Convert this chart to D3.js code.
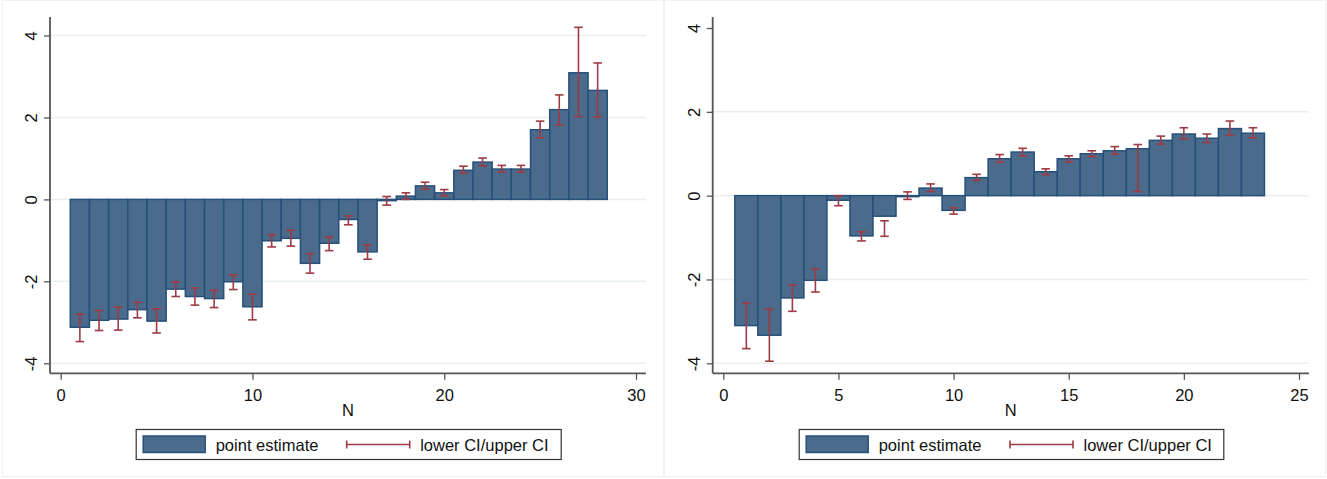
<!DOCTYPE html>
<html>
<head>
<meta charset="utf-8">
<script src="https://cdn.jsdelivr.net/npm/d3@7"></script>
<style>
  html, body { margin: 0; padding: 0; background: #ffffff; }
  svg { display: block; }
  text { font-family: "Liberation Sans", Arial, sans-serif; fill: #111; }
</style>
</head>
<body>
<svg id="chart" width="1327" height="479"></svg>
<script>
// ---------- DATA ----------
const leftN = [1,2,3,4,5,6,7,8,9,10,11,12,13,14,15,16,17,18,19,20,21,22,23,24,25,26,27,28];
const leftEstimate = [-3.12,-2.95,-2.92,-2.69,-2.97,-2.19,-2.37,-2.42,-2.01,-2.62,-1.01,-0.95,-1.56,-1.07,-0.49,-1.28,-0.03,0.08,0.33,0.16,0.71,0.91,0.74,0.74,1.70,2.19,3.09,2.66];
const leftUpper = [-2.80,-2.71,-2.63,-2.51,-2.67,-2.01,-2.16,-2.22,-1.84,-2.31,-0.86,-0.75,-1.32,-0.92,-0.40,-1.11,0.07,0.16,0.42,0.24,0.81,1.01,0.83,0.83,1.91,2.55,4.20,3.33];
const leftLower = [-3.47,-3.20,-3.19,-2.89,-3.26,-2.37,-2.58,-2.64,-2.20,-2.94,-1.16,-1.14,-1.80,-1.25,-0.62,-1.46,-0.14,0.00,0.25,0.09,0.64,0.82,0.67,0.67,1.50,1.82,2.02,2.01];

const rightN = [1,2,3,4,5,6,7,8,9,10,11,12,13,14,15,16,17,18,19,20,21,22,23];
const rightEstimate = [-3.10,-3.33,-2.44,-2.02,-0.11,-0.96,-0.49,-0.02,0.18,-0.35,0.43,0.88,1.04,0.57,0.88,1.00,1.07,1.12,1.32,1.47,1.37,1.60,1.49];
const rightUpper = [-2.56,-2.71,-2.13,-1.75,0.00,-0.86,-0.60,0.09,0.28,-0.29,0.51,0.98,1.13,0.64,0.95,1.07,1.17,1.22,1.42,1.62,1.47,1.78,1.62];
const rightLower = [-3.65,-3.95,-2.76,-2.30,-0.24,-1.08,-0.97,-0.09,0.10,-0.44,0.36,0.80,0.95,0.50,0.80,0.93,0.99,0.10,1.23,1.35,1.27,1.44,1.38];

const yTicks = [-4,-2,0,2,4];
const yTickLabels = ["-4","-2","0","2","4"];
const leftXTicks = [0,10,20,30];
const rightXTicks = [0,5,10,15,20,25];
const xTitle = "N";
const legendLabels = ["point estimate", "lower CI/upper CI"];

// ---------- STYLE ----------
const barFill = "#4a6b8c";
const barStroke = "#26507a";
const ciColor = "#9e3a43";
const gridColor = "#e8eff0";
const axisColor = "#555555";
const fontSize = 16.5;

const svg = d3.select("#chart");

function drawPanel(cfg) {
  const g = svg.append("g");
  const rows = cfg.n.map((n, i) => ({ n: n, est: cfg.est[i], lo: cfg.lo[i], hi: cfg.hi[i] }));

  // panel frame
  g.append("rect")
    .attr("x", cfg.frame[0] + 0.5).attr("y", cfg.frame[1] + 0.5)
    .attr("width", cfg.frame[2]).attr("height", cfg.frame[3])
    .attr("fill", "none").attr("stroke", "#eef1f2").attr("stroke-width", 1);

  const x = d3.scaleLinear().domain(cfg.xDomain).range(cfg.xRange);
  const y = d3.scaleLinear().domain([-4, 4]).range(cfg.yRange);

  // gridlines
  g.append("g").selectAll("line")
    .data(yTicks.filter(t => cfg.gridTicks.includes(t)))
    .join("line")
    .attr("x1", cfg.axisX).attr("x2", cfg.axisRight)
    .attr("y1", d => y(d)).attr("y2", d => y(d))
    .attr("stroke", gridColor).attr("stroke-width", 1.5);

  // bars
  g.append("g").selectAll("rect")
    .data(rows)
    .join("rect")
    .attr("x", d => x(d.n - 0.5))
    .attr("width", d => x(d.n + 0.5) - x(d.n - 0.5))
    .attr("y", d => Math.min(y(d.est), y(0)))
    .attr("height", d => Math.max(Math.abs(y(d.est) - y(0)), 1))
    .attr("fill", barFill)
    .attr("stroke", barStroke)
    .attr("stroke-width", 1.5);

  // CI
  const ci = g.append("g").attr("stroke", ciColor).attr("stroke-width", 1.6).attr("fill", "none");
  const cap = 4.3;
  ci.selectAll("line.v").data(rows).join("line").attr("class", "v")
    .attr("x1", d => x(d.n)).attr("x2", d => x(d.n))
    .attr("y1", d => y(d.hi)).attr("y2", d => y(d.lo));
  ci.selectAll("line.t").data(rows).join("line").attr("class", "t")
    .attr("x1", d => x(d.n) - cap).attr("x2", d => x(d.n) + cap)
    .attr("y1", d => y(d.hi)).attr("y2", d => y(d.hi));
  ci.selectAll("line.b").data(rows).join("line").attr("class", "b")
    .attr("x1", d => x(d.n) - cap).attr("x2", d => x(d.n) + cap)
    .attr("y1", d => y(d.lo)).attr("y2", d => y(d.lo));

  // Y axis
  const yAxis = d3.axisLeft(y).tickValues(yTicks).tickSize(6).tickPadding(0)
    .tickFormat(d => yTickLabels[yTicks.indexOf(d)]);
  const ya = g.append("g").attr("transform", `translate(${cfg.axisX},0)`).call(yAxis);
  ya.select(".domain").remove();
  ya.selectAll(".tick line").attr("stroke", axisColor).attr("stroke-width", 1.3);
  ya.selectAll(".tick text")
    .attr("x", null).attr("dy", null)
    .attr("transform", "translate(-12.7,0) rotate(-90)")
    .attr("text-anchor", "middle")
    .style("font-size", fontSize + "px")
    .style("font-family", "'Liberation Sans', Arial, sans-serif")
    .attr("fill", "#111");
  g.append("line")
    .attr("x1", cfg.axisX).attr("x2", cfg.axisX)
    .attr("y1", cfg.axisTop).attr("y2", cfg.axisY)
    .attr("stroke", axisColor).attr("stroke-width", 1.8);

  // X axis
  const xAxis = d3.axisBottom(x).tickValues(cfg.xTicks).tickSize(6.5).tickPadding(0).tickFormat(d => String(d));
  const xa = g.append("g").attr("transform", `translate(0,${cfg.axisY})`).call(xAxis);
  xa.select(".domain").remove();
  xa.selectAll(".tick line").attr("stroke", axisColor).attr("stroke-width", 1.3);
  xa.selectAll(".tick text")
    .attr("y", 27.7).attr("dy", null)
    .style("font-size", fontSize + "px")
    .style("font-family", "'Liberation Sans', Arial, sans-serif")
    .attr("fill", "#111");
  g.append("line")
    .attr("x1", cfg.axisX).attr("x2", cfg.axisRight)
    .attr("y1", cfg.axisY).attr("y2", cfg.axisY)
    .attr("stroke", axisColor).attr("stroke-width", 1.8);

  // X title
  g.append("text")
    .attr("x", cfg.titleX).attr("y", 416)
    .attr("text-anchor", "middle")
    .style("font-size", fontSize + "px")
    .text(xTitle);

  // Legend
  const L = cfg.legend;
  g.append("rect")
    .attr("x", L.x + 0.5).attr("y", 429.5)
    .attr("width", L.w).attr("height", 30)
    .attr("fill", "#fff").attr("stroke", "#333").attr("stroke-width", 1.2);
  g.append("rect")
    .attr("x", L.x + 7.5).attr("y", 436)
    .attr("width", 62).attr("height", 16.5)
    .attr("fill", barFill).attr("stroke", barStroke).attr("stroke-width", 1.5);
  g.append("text")
    .attr("x", L.x + 80).attr("y", 450.5)
    .style("font-size", fontSize + "px")
    .text(legendLabels[0]);
  const lx1 = L.x + L.ciOffset, lx2 = lx1 + 63;
  const lg = g.append("g").attr("stroke", ciColor).attr("stroke-width", 1.6);
  lg.append("line").attr("x1", lx1).attr("x2", lx2).attr("y1", 444.5).attr("y2", 444.5);
  lg.append("line").attr("x1", lx1).attr("x2", lx1).attr("y1", 440.5).attr("y2", 448.5);
  lg.append("line").attr("x1", lx2).attr("x2", lx2).attr("y1", 440.5).attr("y2", 448.5);
  g.append("text")
    .attr("x", lx2 + 10.5).attr("y", 450.5)
    .style("font-size", fontSize + "px")
    .text(legendLabels[1]);
}

drawPanel({
  n: leftN, est: leftEstimate, lo: leftLower, hi: leftUpper,
  frame: [2, 0, 661, 476],
  xDomain: [0, 30], xRange: [60.7, 636],
  yRange: [363.3, 35.5],
  axisX: 50, axisTop: 17, axisY: 373.3, axisRight: 646,
  xTicks: leftXTicks,
  gridTicks: [-4, -2, 0, 2, 4],
  titleX: 348,
  legend: { x: 135.7, w: 425, ciOffset: 211 }
});

drawPanel({
  n: rightN, est: rightEstimate, lo: rightLower, hi: rightUpper,
  frame: [664, 0, 661, 476],
  xDomain: [0, 25], xRange: [723.3, 1299],
  yRange: [363.3, 28],
  axisX: 712.7, axisTop: 17, axisY: 373.3, axisRight: 1309,
  xTicks: rightXTicks,
  gridTicks: [-4, -2, 0, 2],
  titleX: 1010.7,
  legend: { x: 798.7, w: 424.6, ciOffset: 211.3 }
});
</script>
</body>
</html>
